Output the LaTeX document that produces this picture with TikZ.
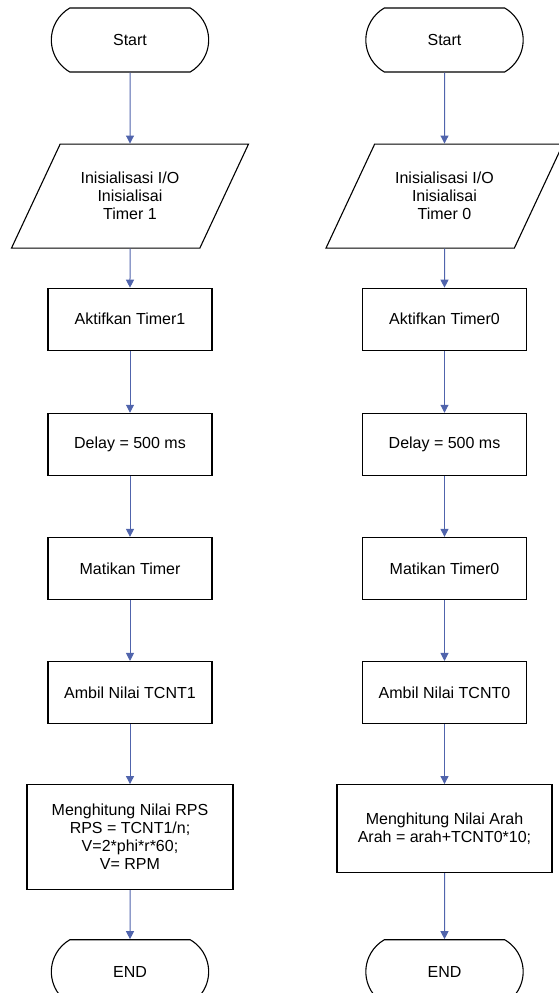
\documentclass[tikz,border=0pt]{standalone}
\usepackage{fontspec}
\setmainfont{Liberation Sans}
\usepackage{xcolor}
\usetikzlibrary{positioning,arrows.meta,shapes.geometric,shapes.misc}
\definecolor{flowblue}{RGB}{80,100,172}

\begin{document}
\begin{tikzpicture}[
  x=1pt, y=1pt,
  every node/.style={font=\fontsize{16}{18}\selectfont, align=center, line width=1.1pt},
  term/.style={draw, rounded rectangle, rounded rectangle arc length=120, minimum height=64pt, minimum width=164pt},
  io/.style={draw, trapezium, trapezium left angle=64, trapezium right angle=116, trapezium stretches body, inner ysep=26pt, minimum height=104pt, minimum width=237pt},
  proc/.style={draw, rectangle, minimum height=62pt, minimum width=164pt},
  arr/.style={-{Triangle[width=8pt,length=8pt]}, flowblue, line width=1pt}
]
  \useasboundingbox (0,0) rectangle (558,-993);

  % left column: timer 1
  \node[term] (startA) at (130,-40) {Start};
  \node[io, below=71pt of startA] (ioA) {Inisialisasi I/O\\Inisialisai\\Timer 1};
  \node[proc, below=39pt of ioA] (onA) {Aktifkan Timer1};
  \node[proc, below=62pt of onA] (delayA) {Delay = 500 ms};
  \node[proc, below=61pt of delayA] (offA) {Matikan Timer};
  \node[proc, below=61pt of offA] (readA) {Ambil Nilai TCNT1};
  \node[proc, below=60pt of readA, minimum width=206pt, minimum height=105pt] (calcA) {Menghitung Nilai RPS\\RPS = TCNT1/n;\\V=2*phi*r*60;\\V= RPM};
  \node[term, below=49pt of calcA] (endA) {END};

  % right column: timer 0
  \node[term] (startB) at (444.5,-40) {Start};
  \node[io, below=71pt of startB] (ioB) {Inisialisasi I/O\\Inisialisai\\Timer 0};
  \node[proc, below=39pt of ioB] (onB) {Aktifkan Timer0};
  \node[proc, below=62pt of onB] (delayB) {Delay = 500 ms};
  \node[proc, below=61pt of delayB] (offB) {Matikan Timer0};
  \node[proc, below=61pt of offB] (readB) {Ambil Nilai TCNT0};
  \node[proc, below=60pt of readB, minimum width=215pt, minimum height=88pt] (calcB) {Menghitung Nilai Arah\\Arah = arah+TCNT0*10;};
  \node[term, below=66pt of calcB] (endB) {END};

  \foreach \c in {A,B} {
    \draw[arr] (start\c) -- (io\c);
    \draw[arr] (io\c) -- (on\c);
    \draw[arr] (on\c) -- (delay\c);
    \draw[arr] (delay\c) -- (off\c);
    \draw[arr] (off\c) -- (read\c);
    \draw[arr] (read\c) -- (calc\c);
    \draw[arr] (calc\c) -- (end\c);
  }
\end{tikzpicture}
\end{document}
